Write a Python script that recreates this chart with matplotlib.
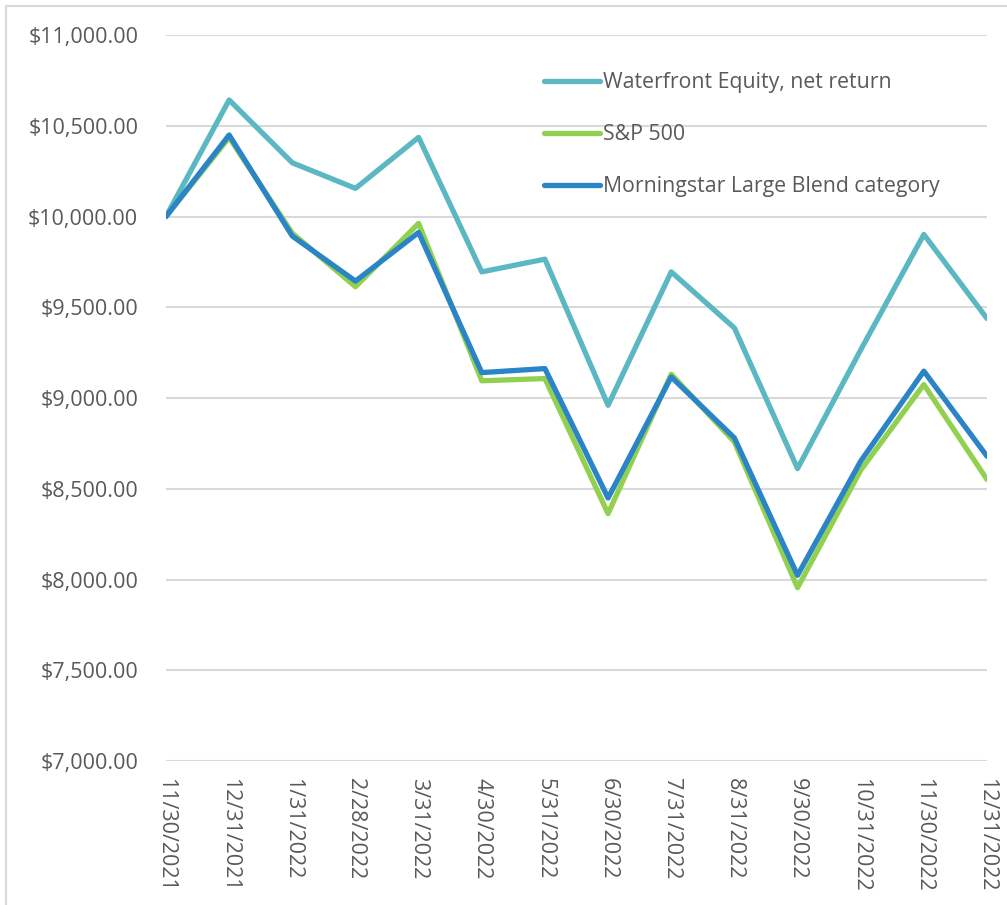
import matplotlib
matplotlib.use("Agg")
import matplotlib.pyplot as plt
from matplotlib.patches import Rectangle
from matplotlib.ticker import FuncFormatter

dates = ["11/30/2021", "12/31/2021", "1/31/2022", "2/28/2022", "3/31/2022", "4/30/2022",
         "5/31/2022", "6/30/2022", "7/31/2022", "8/31/2022", "9/30/2022", "10/31/2022",
         "11/30/2022", "12/31/2022"]
waterfront = [10000, 10642, 10296, 10155, 10436, 9695, 9765, 8960, 9695, 9386, 8611, 9265, 9901, 9438]
sp500 = [10000, 10435, 9908, 9613, 9962, 9095, 9107, 8363, 9131, 8758, 7955, 8602, 9074, 8551]
morningstar = [10000, 10449, 9892, 9644, 9912, 9140, 9162, 8449, 9116, 8780, 8023, 8652, 9148, 8679]

names = ["Waterfront Equity, net return", "S&P 500", "Morningstar Large Blend category"]
colors = ["#5BB8C2", "#92D050", "#2A84C6"]

plt.rcParams['font.family'] = ['Open Sans', 'DejaVu Sans']
text_color = "#595959"

fig = plt.figure(figsize=(10.07, 9.05), dpi=100)
ax = fig.add_axes([166/1007, 1 - 761/905, (987-166)/1007, (761-35)/905])

x = list(range(len(dates)))
for series, name, c in zip([waterfront, sp500, morningstar], names, colors):
    ax.plot(x, series, color=c, lw=3.8, label=name, solid_capstyle='round', solid_joinstyle='round')

ax.set_xlim(0, len(dates) - 1)
ax.set_ylim(7000, 11000)
ax.set_yticks(range(7000, 11001, 500))
ax.yaxis.set_major_formatter(FuncFormatter(lambda v, p: f"${v:,.2f}"))
ax.set_xticks(x)
ax.set_xticklabels(dates, rotation=270, va='top', ha='center')
ax.grid(axis='y', color='#D9D9D9', lw=1.5)
ax.set_axisbelow(True)
for s in ax.spines.values():
    s.set_visible(False)
ax.tick_params(axis='both', length=0, colors=text_color)
ax.tick_params(axis='y', pad=20, labelsize=15.5)
ax.tick_params(axis='x', pad=12, labelsize=15.5)

leg = ax.legend(loc='upper left', bbox_to_anchor=(525/1007, 1 - 53/905), bbox_transform=fig.transFigure,
                frameon=False, fontsize=15.3, handlelength=2.64, handletextpad=0.14, labelspacing=1.46,
                labelcolor=text_color)
for h in leg.get_lines():
    h.set_linewidth(3.8)

fig.patches.append(Rectangle((6/1007, -0.01), 1.02, 1 - 6/905 + 0.01, transform=fig.transFigure,
                             fill=False, edgecolor='#D9D9D9', lw=1.5))

fig.savefig("out.png", dpi=100, facecolor='white')
